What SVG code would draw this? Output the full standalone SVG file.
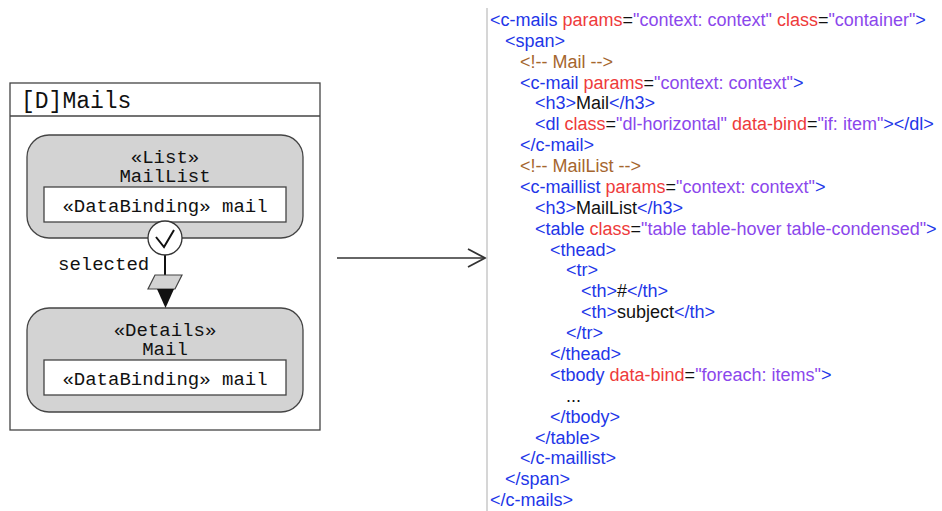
<svg xmlns="http://www.w3.org/2000/svg" width="942" height="511" viewBox="0 0 942 511">
  <style>
    .mono { font-family: "Liberation Mono", "DejaVu Sans Mono", monospace; fill: #111; }
    .lbl { font-size: 19px; }
    .node { fill: #d3d3d3; stroke: #444; stroke-width: 1.3; }
    .box { fill: #fff; stroke: #444; stroke-width: 1.3; }
    .code { font-family: "Liberation Sans", Arial, sans-serif; font-size: 18px; fill: #111; }
    .t { fill: #2236e8; }
    .a { fill: #ee3b3b; }
    .v { fill: #8b47ec; }
    .c { fill: #a5662e; }
  </style>
  <defs>
    <marker id="open" viewBox="0 0 20 20" refX="18" refY="10" markerWidth="20" markerHeight="20" markerUnits="userSpaceOnUse" orient="auto">
      <path d="M1,1 L18,10 L1,19" fill="none" stroke="#333" stroke-width="1.8"/>
    </marker>
  </defs>
  <rect width="942" height="511" fill="#fff"/>

  <!-- frame -->
  <g id="frame">
    <rect x="10" y="83" width="310" height="347" fill="#fff" stroke="#444" stroke-width="1.3"/>
    <line x1="10" y1="116" x2="320" y2="116" stroke="#444" stroke-width="1.3"/>
    <text class="mono" x="21" y="108" font-size="23">[D]Mails</text>
  </g>

  <g id="mailList">
    <rect class="node" x="27" y="135" width="276" height="103" rx="22"/>
    <text class="mono lbl" x="165" y="163" text-anchor="middle">«List»</text>
    <text class="mono lbl" x="165" y="182" text-anchor="middle">MailList</text>
    <rect class="box" x="44" y="187" width="242" height="35"/>
    <text class="mono lbl" x="165" y="212" text-anchor="middle">«DataBinding» mail</text>
  </g>

  <g id="mail">
    <rect class="node" x="27" y="308" width="276" height="104" rx="22"/>
    <text class="mono lbl" x="165" y="336" text-anchor="middle">«Details»</text>
    <text class="mono lbl" x="165" y="355" text-anchor="middle">Mail</text>
    <rect class="box" x="44" y="360" width="242" height="35"/>
    <text class="mono lbl" x="165" y="385" text-anchor="middle">«DataBinding» mail</text>
  </g>

  <g id="connectors">
    <line x1="165" y1="254" x2="165" y2="276" stroke="#111" stroke-width="2"/>
    <polygon points="155,275 182,275 175,289 148,289" fill="#d3d3d3" stroke="#444" stroke-width="1.2"/>
    <polygon points="157,289 174,289 165.5,308" fill="#111"/>
    <circle cx="165" cy="238" r="17" fill="#fff" stroke="#333" stroke-width="1.3"/>
    <path d="M156,237 L164,247 L174,230" fill="none" stroke="#111" stroke-width="2"/>
    <text class="mono lbl" x="58" y="270">selected</text>
    <line x1="337" y1="258" x2="485" y2="258" stroke="#333" stroke-width="1.5" marker-end="url(#open)"/>
  </g>

  <!-- generated markup -->
  <g id="markup">
    <line x1="487" y1="8" x2="487" y2="511" stroke="#bbb" stroke-width="1.2"/>
    <text class="code" x="490" y="26"><tspan class="t">&lt;c-mails </tspan><tspan class="a">params</tspan>=<tspan class="v">"context: context" </tspan><tspan class="a">class</tspan>=<tspan class="v">"container"</tspan><tspan class="t">&gt;</tspan></text>
    <text class="code" x="505" y="47"><tspan class="t">&lt;span&gt;</tspan></text>
    <text class="code c" x="520" y="68">&lt;!-- Mail --&gt;</text>
    <text class="code" x="520" y="89"><tspan class="t">&lt;c-mail </tspan><tspan class="a">params</tspan>=<tspan class="v">"context: context"</tspan><tspan class="t">&gt;</tspan></text>
    <text class="code" x="535" y="109"><tspan class="t">&lt;h3&gt;</tspan>Mail<tspan class="t">&lt;/h3&gt;</tspan></text>
    <text class="code" x="535" y="130"><tspan class="t">&lt;dl </tspan><tspan class="a">class</tspan>=<tspan class="v">"dl-horizontal" </tspan><tspan class="a">data-bind</tspan>=<tspan class="v">"if: item"</tspan><tspan class="t">&gt;&lt;/dl&gt;</tspan></text>
    <text class="code" x="520" y="151"><tspan class="t">&lt;/c-mail&gt;</tspan></text>
    <text class="code c" x="520" y="172">&lt;!-- MailList --&gt;</text>
    <text class="code" x="520" y="193"><tspan class="t">&lt;c-maillist </tspan><tspan class="a">params</tspan>=<tspan class="v">"context: context"</tspan><tspan class="t">&gt;</tspan></text>
    <text class="code" x="535" y="214"><tspan class="t">&lt;h3&gt;</tspan>MailList<tspan class="t">&lt;/h3&gt;</tspan></text>
    <text class="code" x="535" y="235"><tspan class="t">&lt;table </tspan><tspan class="a">class</tspan>=<tspan class="v">"table table-hover table-condensed"</tspan><tspan class="t">&gt;</tspan></text>
    <text class="code" x="550" y="256"><tspan class="t">&lt;thead&gt;</tspan></text>
    <text class="code" x="566" y="276"><tspan class="t">&lt;tr&gt;</tspan></text>
    <text class="code" x="581" y="297"><tspan class="t">&lt;th&gt;</tspan>#<tspan class="t">&lt;/th&gt;</tspan></text>
    <text class="code" x="581" y="318"><tspan class="t">&lt;th&gt;</tspan>subject<tspan class="t">&lt;/th&gt;</tspan></text>
    <text class="code" x="566" y="339"><tspan class="t">&lt;/tr&gt;</tspan></text>
    <text class="code" x="550" y="360"><tspan class="t">&lt;/thead&gt;</tspan></text>
    <text class="code" x="550" y="381"><tspan class="t">&lt;tbody </tspan><tspan class="a">data-bind</tspan>=<tspan class="v">"foreach: items"</tspan><tspan class="t">&gt;</tspan></text>
    <text class="code" x="566" y="402">...</text>
    <text class="code" x="550" y="423"><tspan class="t">&lt;/tbody&gt;</tspan></text>
    <text class="code" x="535" y="444"><tspan class="t">&lt;/table&gt;</tspan></text>
    <text class="code" x="520" y="464"><tspan class="t">&lt;/c-maillist&gt;</tspan></text>
    <text class="code" x="505" y="485"><tspan class="t">&lt;/span&gt;</tspan></text>
    <text class="code" x="490" y="506"><tspan class="t">&lt;/c-mails&gt;</tspan></text>
  </g>
</svg>
